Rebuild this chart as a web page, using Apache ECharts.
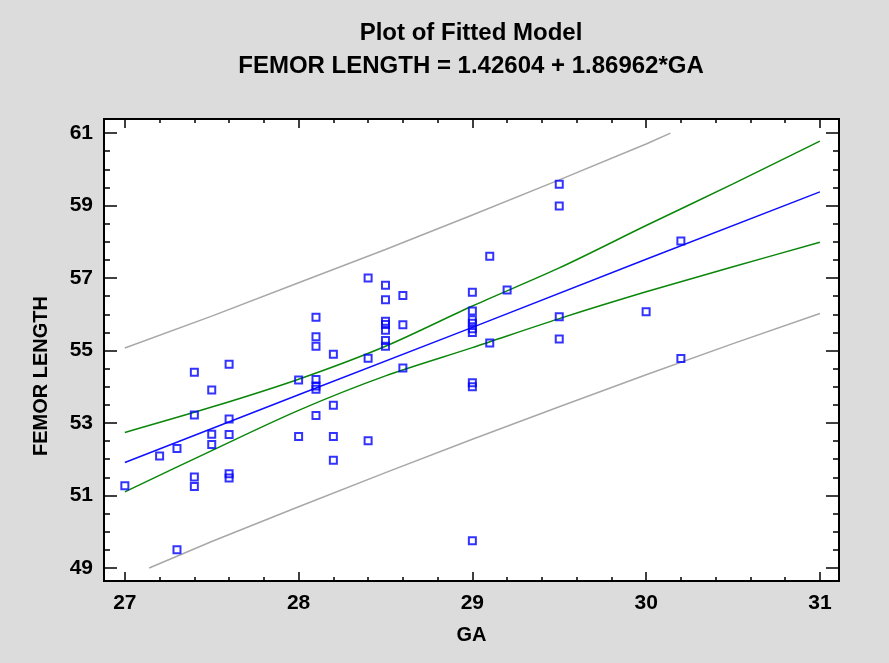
<!DOCTYPE html>
<html>
<head>
<meta charset="utf-8">
<script src="https://cdn.jsdelivr.net/npm/echarts@6/dist/echarts.min.js"></script>
<style>
html, body { margin: 0; padding: 0; background: #dcdcdc; }
#main { width: 889px; height: 663px; }
</style>
</head>
<body>
<div id="main"></div>
<script>
// observed data (GA, femur length)
var gaObs = [27.0, 27.2, 27.3, 27.3, 27.4, 27.4, 27.4, 27.4, 27.5, 27.5, 27.5,
    27.6, 27.6, 27.6, 27.6, 27.6, 28.0, 28.0,
    28.1, 28.1, 28.1, 28.1, 28.1, 28.1, 28.1,
    28.2, 28.2, 28.2, 28.2, 28.4, 28.4, 28.4,
    28.5, 28.5, 28.5, 28.5, 28.5, 28.5, 28.5, 28.6, 28.6, 28.6,
    29.0, 29.0, 29.0, 29.0, 29.0, 29.0, 29.0, 29.0, 29.0,
    29.1, 29.1, 29.2, 29.5, 29.5, 29.5, 29.5, 30.0, 30.2, 30.2];
var femurObs = [51.27, 52.09, 52.30, 49.50, 54.40, 53.22, 51.51, 51.25, 53.91, 52.69, 52.41,
    54.62, 53.11, 52.68, 51.60, 51.48, 54.19, 52.63,
    55.92, 55.38, 55.12, 54.20, 54.02, 53.93, 53.21,
    54.90, 53.49, 52.63, 51.97, 57.00, 54.79, 52.51,
    56.80, 56.40, 55.81, 55.72, 55.56, 55.28, 55.12, 56.52, 55.71, 54.52,
    56.61, 56.09, 55.85, 55.75, 55.60, 55.50, 54.11, 54.00, 49.75,
    57.60, 55.21, 56.67, 59.59, 58.99, 55.93, 55.32, 56.07, 58.02, 54.78];

// fitted line
var fitGA = [27, 28, 29, 30, 31];
var fitVal = [51.91, 53.78, 55.64, 57.52, 59.38];

// confidence limits (green)
var bandGA = [27, 27.5, 28, 28.5, 29, 29.5, 30, 30.5, 31];
var confUpper = [52.74, 53.44, 54.21, 55.12, 56.23, 57.28, 58.45, 59.60, 60.78];
var confLower = [51.10, 52.24, 53.35, 54.30, 55.08, 55.88, 56.62, 57.31, 57.99];

// prediction limits (gray)
var predUpGA = [27, 27.5, 28, 28.5, 29, 29.5, 30, 30.14];
var predUpper = [55.07, 55.95, 56.87, 57.79, 58.74, 59.71, 60.70, 61.0];
var predLoGA = [27.14, 27.5, 28, 28.5, 29, 29.5, 30, 30.5, 31];
var predLower = [49.0, 49.73, 50.69, 51.63, 52.55, 53.45, 54.33, 55.19, 56.02];

// ticks
var xMajor = [27, 28, 29, 30, 31];
var xMinor = [27.2, 27.4, 27.6, 27.8, 28.2, 28.4, 28.6, 28.8, 29.2, 29.4, 29.6, 29.8, 30.2, 30.4, 30.6, 30.8];
var yMajor = [49, 51, 53, 55, 57, 59, 61];
var yMinor = [49.5, 50, 50.5, 51.5, 52, 52.5, 53.5, 54, 54.5, 55.5, 56, 56.5, 57.5, 58, 58.5, 59.5, 60, 60.5];

var X_MIN = 26.88, X_MAX = 31.11, Y_MIN = 48.64, Y_MAX = 61.39;
var FONT = 'Liberation Sans';

function zip(a, b) {
    var out = [];
    for (var i = 0; i < a.length; i++) out.push([a[i], b[i]]);
    return out;
}

function xAx(pos, ticks, len, withLabel) {
    return {
        type: 'value', min: X_MIN, max: X_MAX, position: pos,
        axisLine: { show: false },
        splitLine: { show: false },
        axisTick: { show: true, inside: true, length: len, customValues: ticks,
            lineStyle: { color: '#000', width: 1.5 } },
        axisLabel: withLabel ? { show: true, customValues: ticks, margin: 12,
            color: '#000', fontFamily: FONT, fontWeight: 'bold', fontSize: 21 } : { show: false }
    };
}
function yAx(pos, ticks, len, withLabel) {
    return {
        type: 'value', min: Y_MIN, max: Y_MAX, position: pos,
        axisLine: { show: false },
        splitLine: { show: false },
        axisTick: { show: true, inside: true, length: len, customValues: ticks,
            lineStyle: { color: '#000', width: 1.5 } },
        axisLabel: withLabel ? { show: true, customValues: ticks, margin: 11,
            color: '#000', fontFamily: FONT, fontWeight: 'bold', fontSize: 21 } : { show: false }
    };
}

var xAxes = [xAx('bottom', xMajor, 9, true), xAx('bottom', xMinor, 4, false),
    xAx('top', xMajor, 9, false), xAx('top', xMinor, 4, false)];
xAxes[0].name = 'GA';
xAxes[0].nameLocation = 'middle';
xAxes[0].nameGap = 44;
xAxes[0].nameTextStyle = { color: '#000', fontFamily: FONT, fontWeight: 'bold', fontSize: 20 };

var yAxes = [yAx('left', yMajor, 13, true), yAx('left', yMinor, 6, false),
    yAx('right', yMajor, 13, false), yAx('right', yMinor, 6, false)];

var chart = echarts.init(document.getElementById('main'));
chart.setOption({
    backgroundColor: '#dcdcdc',
    animation: false,
    graphic: [
        { type: 'text', x: 471, y: 33, style: { text: 'Plot of Fitted Model',
            x: 0, y: 0, textAlign: 'center', textVerticalAlign: 'middle',
            font: 'bold 24px "Liberation Sans"', fill: '#000' } },
        { type: 'text', x: 471, y: 66, style: { text: 'FEMOR LENGTH = 1.42604 + 1.86962*GA',
            x: 0, y: 0, textAlign: 'center', textVerticalAlign: 'middle',
            font: 'bold 24px "Liberation Sans"', fill: '#000' } },
        { type: 'text', x: 41, y: 376, rotation: Math.PI / 2, style: { text: 'FEMOR LENGTH',
            x: 0, y: 0, textAlign: 'center', textVerticalAlign: 'middle',
            font: 'bold 20px "Liberation Sans"', fill: '#000' } }
    ],
    grid: {
        left: 104, top: 119, width: 735, height: 462,
        show: true, backgroundColor: '#fff', borderColor: '#000', borderWidth: 2
    },
    xAxis: xAxes,
    yAxis: yAxes,
    series: [
        { type: 'line', data: zip(predUpGA, predUpper), showSymbol: false,
          lineStyle: { color: '#a8a8a8', width: 1.5 }, z: 2 },
        { type: 'line', data: zip(predLoGA, predLower), showSymbol: false,
          lineStyle: { color: '#a8a8a8', width: 1.5 }, z: 2 },
        { type: 'line', data: zip(bandGA, confUpper), showSymbol: false, smooth: 0.3,
          lineStyle: { color: '#0a870a', width: 1.5 }, z: 3 },
        { type: 'line', data: zip(bandGA, confLower), showSymbol: false, smooth: 0.3,
          lineStyle: { color: '#0a870a', width: 1.5 }, z: 3 },
        { type: 'line', data: zip(fitGA, fitVal), showSymbol: false,
          lineStyle: { color: '#1010ff', width: 1.5 }, z: 4 },
        { type: 'scatter', data: zip(gaObs, femurObs), symbol: 'rect', symbolSize: 7,
          itemStyle: { color: 'rgba(0,0,0,0)', borderColor: '#0000ff', borderWidth: 2 }, z: 5 }
    ]
});
</script>
</body>
</html>
